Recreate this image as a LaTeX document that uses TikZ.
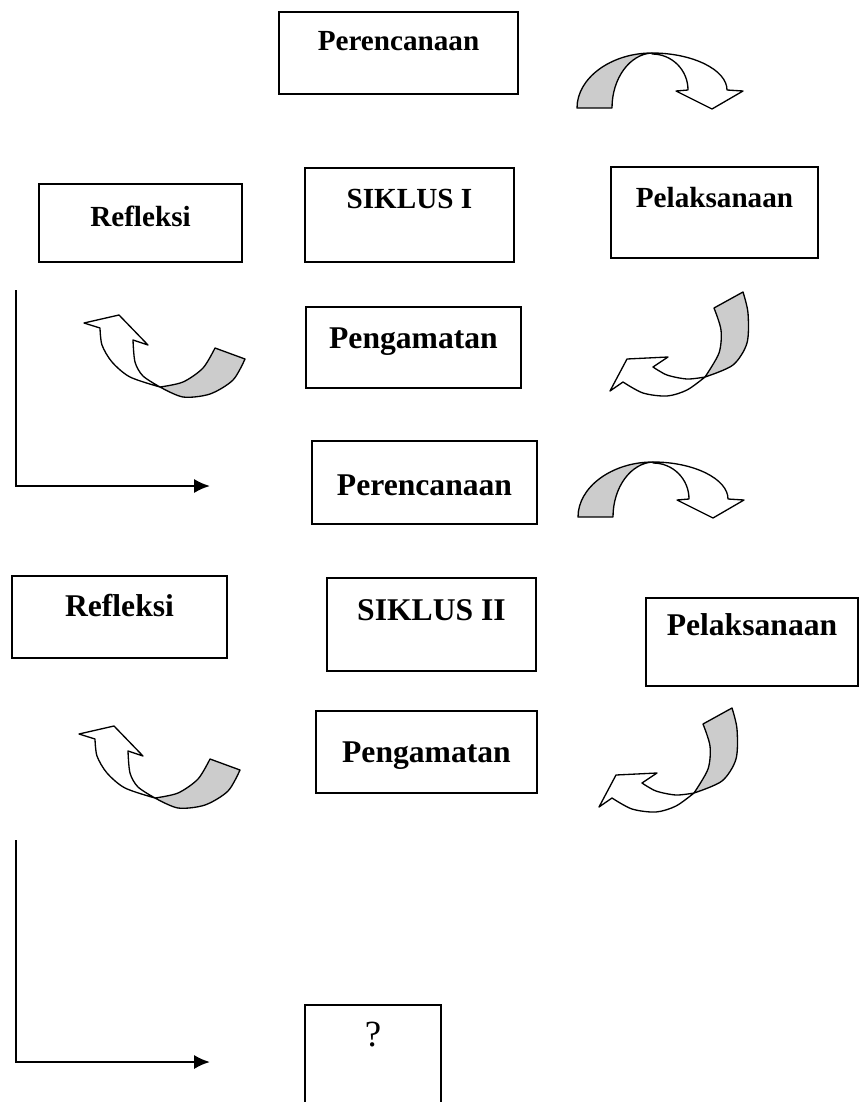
\documentclass[tikz,border=0pt]{standalone}
\usepackage{fontspec}
\setmainfont{Liberation Serif}
\usetikzlibrary{arrows.meta}

\begin{document}
\begin{tikzpicture}[x=0.02cm,y=-0.02cm,
  box/.style={draw,line width=0.9pt,inner sep=0pt,anchor=north},
  small/.style={font=\fontsize{16.6}{20}\selectfont\bfseries},
  big/.style={font=\fontsize{18}{22}\selectfont\bfseries},
  back/.style={fill=backcolor,draw=linecolor,line width=0.75pt,line join=round},
  front/.style={fill=white,draw=linecolor,line width=0.75pt,line join=round},
  flow/.style={draw=linecolor,line width=1.3pt,-{Latex[length=9pt,width=8pt]}},
  rightcurl/.pic={
    \filldraw[back] (577,108) .. controls (577,78) and (611,53) .. (652,53)
      .. controls (630,54) and (612,78) .. (612,108) -- cycle;
    \filldraw[front] (652,53) .. controls (693,53) and (727,70) .. (727,90)
      -- (743,91) -- (712,109) -- (676,91) -- (688,90)
      .. controls (688,70) and (672,54) .. (652,54) -- cycle;
  },
  downcurl/.pic={
    \filldraw[back] (714,308) -- (743,292)
      -- plot[smooth] coordinates {(743,292) (748,313) (747,343) (733,365) (705,377)}
      -- plot[smooth] coordinates {(705,377) (719,353) (721,330) (714,308)} -- cycle;
    \filldraw[front] (705,377)
      -- plot[smooth] coordinates {(705,377) (687,379) (667,375) (653,367)}
      -- (668,357) -- (627,359) -- (610,391) -- (623,382)
      -- plot[smooth] coordinates {(623,382) (643,393) (667,396) (687,390) (705,377)} -- cycle;
  },
  upcurl/.pic={
    \filldraw[back] (215,348) -- (245,359)
      -- plot[smooth] coordinates {(245,359) (233,380) (210,394) (183,397) (160,387)}
      -- plot[smooth] coordinates {(160,387) (183,382) (203,368) (215,348)} -- cycle;
    \filldraw[front] (160,387)
      -- plot[smooth] coordinates {(160,387) (143,376) (135,362) (133,340)}
      -- (148,345) -- (119,315) -- (84,323) -- (100,328)
      -- plot[smooth] coordinates {(100,328) (102,345) (112,362) (130,377) (160,387)} -- cycle;
  }]
\definecolor{backcolor}{RGB}{204,204,204}
\definecolor{linecolor}{RGB}{0,0,0}
\useasboundingbox (0,0) rectangle (859,1102);

% siklus I
\node[box,small,minimum width=4.78cm,text height=0.78cm,text depth=0.86cm] (per1) at (398.5,11) {Perencanaan};
\node[box,small,minimum width=4.06cm,text height=0.86cm,text depth=0.70cm] (ref1) at (140.5,183) {Refleksi};
\node[box,small,minimum width=4.18cm,text height=0.82cm,text depth=1.06cm] (sik1) at (409.5,167) {SIKLUS I};
\node[box,small,minimum width=4.14cm,text height=0.82cm,text depth=1.00cm] (pel1) at (714.5,166) {Pelaksanaan};
\node[box,big,minimum width=4.30cm,text height=0.84cm,text depth=0.78cm] (pen1) at (413.5,306) {Pengamatan};
\pic at (0,0) {rightcurl};
\pic at (0,0) {downcurl};
\pic at (0,0) {upcurl};

% siklus II
\node[box,big,minimum width=4.50cm,text height=1.10cm,text depth=0.56cm] (per2) at (424.5,440) {Perencanaan};
\node[box,big,minimum width=4.30cm,text height=0.82cm,text depth=0.82cm] (ref2) at (119.5,575) {Refleksi};
\node[box,big,minimum width=4.18cm,text height=0.86cm,text depth=1.00cm] (sik2) at (431.5,577) {SIKLUS II};
\node[box,big,minimum width=4.24cm,text height=0.76cm,text depth=1.00cm] (pel2) at (752,597) {Pelaksanaan};
\node[box,big,minimum width=4.42cm,text height=1.04cm,text depth=0.60cm] (pen2) at (426.5,710) {Pengamatan};
\pic at (1,409) {rightcurl};
\pic at (-11,416) {downcurl};
\pic at (-5,411) {upcurl};

% lanjut
\coordinate (top1) at (16,290);
\coordinate (corner1) at (16,486);
\coordinate (end1) at (210,486);
\draw[flow] (top1) -- (corner1) -- (end1);
\coordinate (top2) at (16,840);
\coordinate (corner2) at (16,1062);
\coordinate (end2) at (210,1062);
\draw[flow] (top2) -- (corner2) -- (end2);
\node[box,font=\fontsize{21}{25}\selectfont,minimum width=2.72cm,text height=0.84cm,text depth=1.44cm] (next) at (373,1004) {?};
\end{tikzpicture}
\end{document}
